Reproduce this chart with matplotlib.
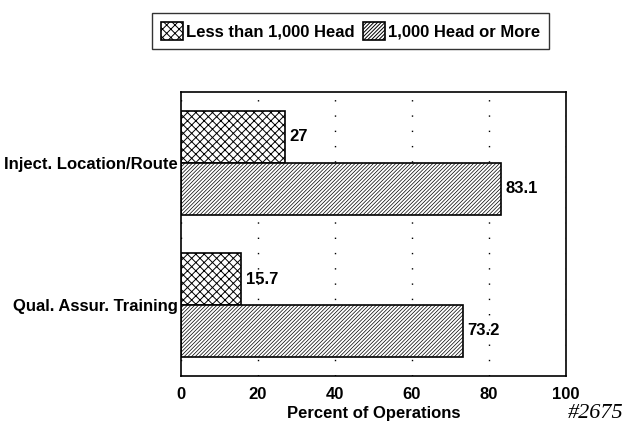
import matplotlib.pyplot as plt

plt.rcParams['font.family'] = 'Liberation Sans'
plt.rcParams['font.weight'] = 'bold'
plt.rcParams['hatch.linewidth'] = 0.7

categories = ["Inject. Location/Route", "Qual. Assur. Training"]
series_names = ["Less than 1,000 Head", "1,000 Head or More"]
small_ops = [27, 15.7]
large_ops = [83.1, 73.2]
x_ticks = [0, 20, 40, 60, 80, 100]

fig = plt.figure(figsize=(6.34, 4.28), dpi=100)
ax = fig.add_axes([0.2855, 0.1215, 0.607, 0.6636])

pos = list(range(len(categories)))
h = 0.366
b1 = ax.barh([p - h / 2 for p in pos], small_ops, height=h, color='white',
             edgecolor='black', hatch='xxxx', linewidth=1.2, label=series_names[0])
b2 = ax.barh([p + h / 2 for p in pos], large_ops, height=h, color='white',
             edgecolor='black', hatch='/////////', linewidth=1.2, label=series_names[1])

# thinner hatch lines for the dense diagonal pattern
for bar in b2:
    if hasattr(bar, 'set_hatch_linewidth'):
        bar.set_hatch_linewidth(0.5)

# value labels at bar ends
for bars, vals in [(b1, small_ops), (b2, large_ops)]:
    for bar, v in zip(bars, vals):
        ax.text(bar.get_width() + 1.2, bar.get_y() + bar.get_height() / 2,
                str(v), va='center', ha='left', fontsize=12, fontweight='bold')

ax.set_xlim(0, 100)
ax.set_ylim(len(categories) - 0.5, -0.5)
ax.set_yticks(pos)
ax.set_yticklabels(categories, fontsize=12)
ax.set_xticks(x_ticks)
ax.set_xticklabels([str(t) for t in x_ticks], fontsize=12)
ax.tick_params(axis='both', length=0)
ax.tick_params(axis='x', pad=8)
ax.tick_params(axis='y', pad=2)
for s in ax.spines.values():
    s.set_linewidth(1.2)
ax.set_axisbelow(True)
ax.grid(axis='x', color='black', linestyle=(0, (1, 10)), linewidth=1)
ax.set_xlabel("Percent of Operations", fontsize=12, fontweight='bold', labelpad=3)

fig.legend(handles=[b1, b2], loc='center', bbox_to_anchor=(0.553, 0.928),
           ncol=2, frameon=True, fancybox=False, edgecolor='black',
           prop={'weight': 'bold', 'size': 12}, handlelength=1.3,
           handleheight=1.3, handletextpad=0.2, columnspacing=0.5,
           borderpad=0.55)

fig.text(0.94, 0.035, "#2675", fontsize=16, family='Liberation Serif',
         style='italic', fontweight='normal', ha='center', va='center')

fig.savefig('out.png', dpi=100)
